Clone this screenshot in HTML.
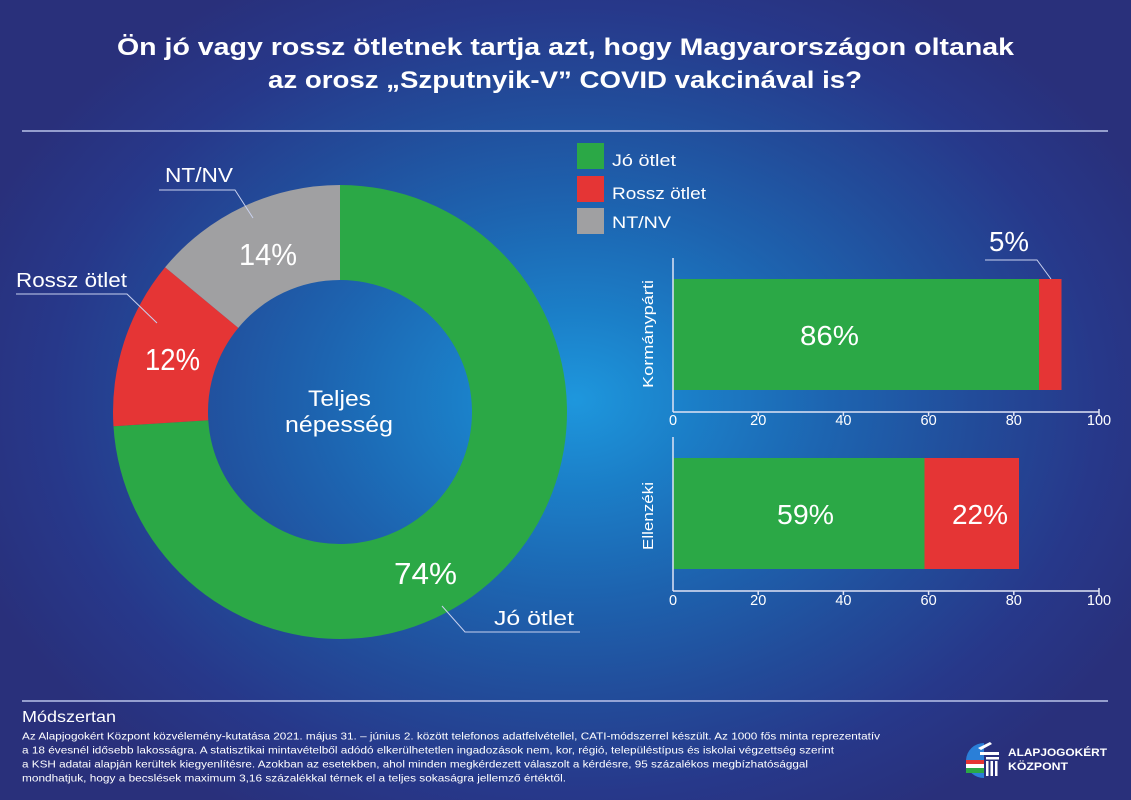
<!DOCTYPE html>
<html><head><meta charset="utf-8">
<style>
html,body{margin:0;padding:0;}
body{width:1131px;height:800px;overflow:hidden;}
#bg{position:absolute;left:0;top:0;width:1131px;height:800px;
background:radial-gradient(ellipse 640px 480px at 575px 400px,#1e97dd 0%,#1b7fc8 18%,#1d64b0 40%,#224c9a 62%,#27388a 82%,#29307b 100%);}
svg{position:absolute;left:0;top:0;}
text{font-family:"Liberation Sans",Arial,sans-serif;fill:#fff;}
</style></head><body>
<div id="bg"></div>
<svg width="1131" height="800" viewBox="0 0 1131 800" xmlns="http://www.w3.org/2000/svg">
<!-- title -->
<text x="117" y="55" font-size="24" font-weight="bold" textLength="897" lengthAdjust="spacingAndGlyphs">Ön jó vagy rossz ötletnek tartja azt, hogy Magyarországon oltanak</text>
<text x="268" y="88" font-size="24" font-weight="bold" textLength="594" lengthAdjust="spacingAndGlyphs">az orosz „Szputnyik-V” COVID vakcinával is?</text>
<line x1="22" y1="131" x2="1108" y2="131" stroke="#b9c3ea" stroke-width="1.5"/>

<!-- donut -->
<path d="M340,185 A227,227 0 1 1 113.45,426.25 L208.26,420.29 A132,132 0 1 0 340,280 Z" fill="#2ba846"/>
<path d="M113.45,426.25 A227,227 0 0 1 165.09,267.31 L238.29,327.86 A132,132 0 0 0 208.26,420.29 Z" fill="#e53535"/>
<path d="M165.09,267.31 A227,227 0 0 1 340,185 L340,280 A132,132 0 0 0 238.29,327.86 Z" fill="#a0a0a2"/>

<text x="239" y="265" font-size="31" textLength="58" lengthAdjust="spacingAndGlyphs">14%</text>
<text x="145" y="370" font-size="31" textLength="55" lengthAdjust="spacingAndGlyphs">12%</text>
<text x="394" y="584" font-size="31" textLength="63" lengthAdjust="spacingAndGlyphs">74%</text>
<text x="308" y="406" font-size="22" textLength="63" lengthAdjust="spacingAndGlyphs">Teljes</text>
<text x="285" y="432" font-size="22" textLength="108" lengthAdjust="spacingAndGlyphs">népesség</text>

<!-- donut callouts -->
<text x="165" y="182" font-size="20" textLength="68" lengthAdjust="spacingAndGlyphs">NT/NV</text>
<polyline points="159,190 235,190 253,218" fill="none" stroke="#c9d1ef" stroke-width="1"/>
<text x="16" y="287" font-size="20" textLength="111" lengthAdjust="spacingAndGlyphs">Rossz ötlet</text>
<polyline points="16,294 127,294 157,323" fill="none" stroke="#c9d1ef" stroke-width="1"/>
<text x="494" y="625" font-size="20" textLength="80" lengthAdjust="spacingAndGlyphs">Jó ötlet</text>
<polyline points="442,606 465,632 580,632" fill="none" stroke="#c9d1ef" stroke-width="1"/>

<!-- legend -->
<rect x="577" y="143" width="27" height="26" fill="#2ba846"/>
<rect x="577" y="176" width="27" height="26" fill="#e53535"/>
<rect x="577" y="208" width="27" height="26" fill="#a0a0a2"/>
<text x="612" y="166" font-size="17" textLength="64" lengthAdjust="spacingAndGlyphs">Jó ötlet</text>
<text x="612" y="199" font-size="17" textLength="94" lengthAdjust="spacingAndGlyphs">Rossz ötlet</text>
<text x="612" y="228" font-size="17" textLength="59" lengthAdjust="spacingAndGlyphs">NT/NV</text>

<!-- top bar chart -->
<rect x="673" y="279" width="366" height="111" fill="#2ba846"/>
<rect x="1039" y="279" width="22.5" height="111" fill="#e53535"/>
<text x="800" y="345" font-size="28" textLength="59" lengthAdjust="spacingAndGlyphs">86%</text>
<text x="989" y="251" font-size="28" textLength="40" lengthAdjust="spacingAndGlyphs">5%</text>
<polyline points="985,260 1037,260 1051,279" fill="none" stroke="#c9d1ef" stroke-width="1"/>
<g stroke="#dfe3f5" stroke-width="1.5" fill="none">
<line x1="673" y1="258" x2="673" y2="412"/>
<line x1="673" y1="412" x2="1099" y2="412"/>
<line x1="758.2" y1="412" x2="758.2" y2="416"/>
<line x1="843.4" y1="412" x2="843.4" y2="416"/>
<line x1="928.6" y1="412" x2="928.6" y2="416"/>
<line x1="1013.8" y1="412" x2="1013.8" y2="416"/>
<line x1="1099" y1="409" x2="1099" y2="416"/>
</g>
<g font-size="14.5" text-anchor="middle">
<text x="673" y="425">0</text><text x="758.2" y="425">20</text><text x="843.4" y="425">40</text><text x="928.6" y="425">60</text><text x="1013.8" y="425">80</text><text x="1099" y="425">100</text>
</g>
<text transform="translate(653,334) rotate(-90)" font-size="15" text-anchor="middle" textLength="108" lengthAdjust="spacingAndGlyphs">Kormánypárti</text>

<!-- bottom bar chart -->
<rect x="673" y="458" width="251.5" height="111" fill="#2ba846"/>
<rect x="924.5" y="458" width="94.5" height="111" fill="#e53535"/>
<text x="777" y="524" font-size="28" textLength="57" lengthAdjust="spacingAndGlyphs">59%</text>
<text x="952" y="524" font-size="28" textLength="56" lengthAdjust="spacingAndGlyphs">22%</text>
<g stroke="#dfe3f5" stroke-width="1.5" fill="none">
<line x1="673" y1="437" x2="673" y2="591"/>
<line x1="673" y1="591" x2="1099" y2="591"/>
<line x1="758.2" y1="591" x2="758.2" y2="595"/>
<line x1="843.4" y1="591" x2="843.4" y2="595"/>
<line x1="928.6" y1="591" x2="928.6" y2="595"/>
<line x1="1013.8" y1="591" x2="1013.8" y2="595"/>
<line x1="1099" y1="588" x2="1099" y2="595"/>
</g>
<g font-size="14.5" text-anchor="middle">
<text x="673" y="605">0</text><text x="758.2" y="605">20</text><text x="843.4" y="605">40</text><text x="928.6" y="605">60</text><text x="1013.8" y="605">80</text><text x="1099" y="605">100</text>
</g>
<text transform="translate(653,516) rotate(-90)" font-size="15" text-anchor="middle" textLength="68" lengthAdjust="spacingAndGlyphs">Ellenzéki</text>

<!-- footer -->
<line x1="22" y1="701" x2="1108" y2="701" stroke="#b9c3ea" stroke-width="1.5"/>
<text x="22" y="722" font-size="16" textLength="94" lengthAdjust="spacingAndGlyphs">Módszertan</text>
<g font-size="10.5">
<text x="22" y="739.5" textLength="858" lengthAdjust="spacingAndGlyphs">Az Alapjogokért Központ közvélemény-kutatása 2021. május 31. – június 2. között telefonos adatfelvétellel, CATI-módszerrel készült. Az 1000 fős minta reprezentatív</text>
<text x="22" y="753.5" textLength="812" lengthAdjust="spacingAndGlyphs">a 18 évesnél idősebb lakosságra. A statisztikai mintavételből adódó elkerülhetetlen ingadozások nem, kor, régió, településtípus és iskolai végzettség szerint</text>
<text x="22" y="767.5" textLength="786" lengthAdjust="spacingAndGlyphs">a KSH adatai alapján kerültek kiegyenlítésre. Azokban az esetekben, ahol minden megkérdezett válaszolt a kérdésre, 95 százalékos megbízhatósággal</text>
<text x="22" y="781.5" textLength="544" lengthAdjust="spacingAndGlyphs">mondhatjuk, hogy a becslések maximum 3,16 százalékkal térnek el a teljes sokaságra jellemző értéktől.</text>
</g>

<!-- logo -->
<g>
<path d="M984,743 A18,18 0 0 0 966,760 L984,760 Z" fill="#2a7fd8"/>
<path d="M966,762 A18,18 0 0 0 984,778 L984,762 Z" fill="#2a7fd8"/>
<rect x="966" y="760" width="18" height="4" fill="#e53535"/>
<rect x="966" y="764" width="18" height="4" fill="#ffffff"/>
<rect x="966" y="768" width="18" height="5" fill="#2ba846"/>
<path d="M978,748 L990,742 L992,744 L981,750 Z" fill="#fff"/>
<path d="M980,752 L999,752 L999,755 L980,755 Z" fill="#fff"/>
<rect x="986" y="757" width="13" height="2.5" fill="#fff"/>
<rect x="986" y="761" width="2.5" height="15" fill="#fff"/>
<rect x="990.5" y="761" width="2.5" height="15" fill="#fff"/>
<rect x="995" y="761" width="2.5" height="15" fill="#fff"/>
<text x="1008" y="756" font-size="11" font-weight="bold" textLength="99" lengthAdjust="spacingAndGlyphs">ALAPJOGOKÉRT</text>
<text x="1008" y="770" font-size="11" font-weight="bold" textLength="60" lengthAdjust="spacingAndGlyphs">KÖZPONT</text>
</g>
</svg>
</body></html>
